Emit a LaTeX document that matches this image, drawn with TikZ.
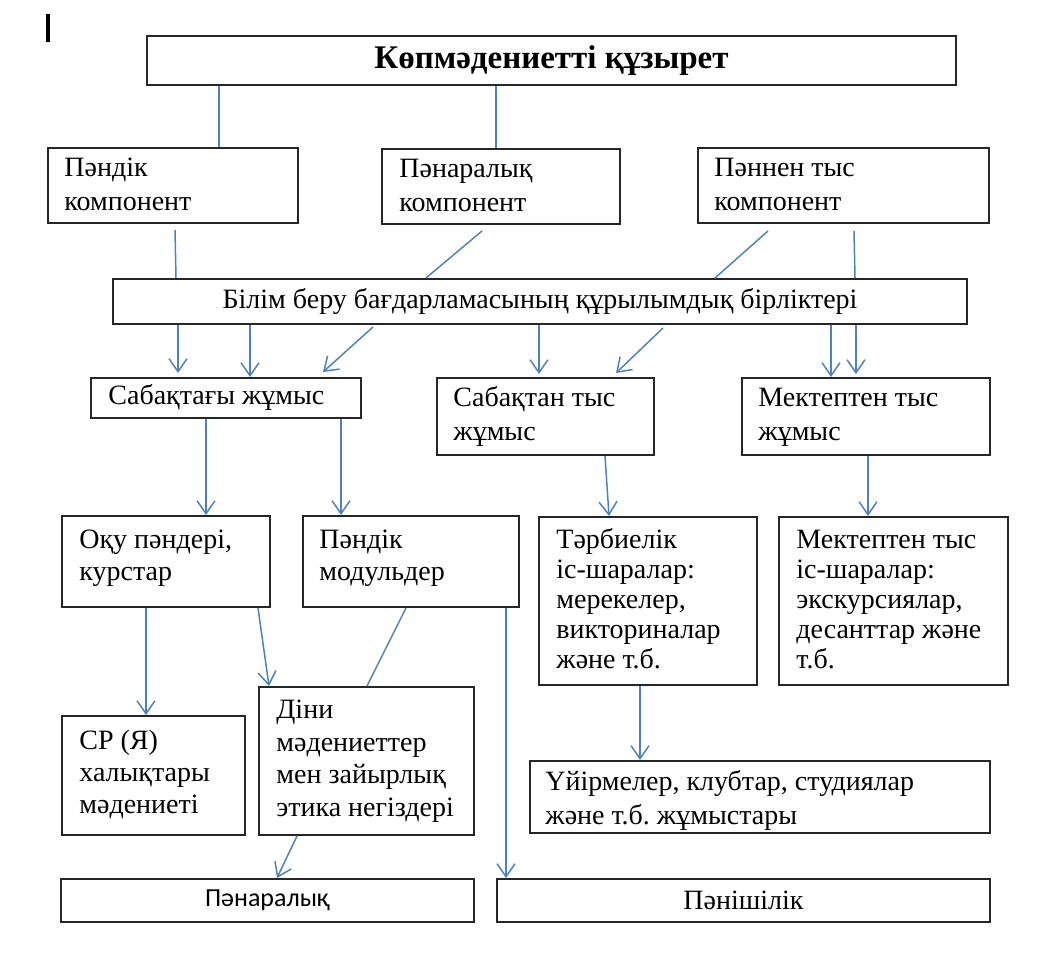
\documentclass[tikz,border=0pt]{standalone}
\usepackage{fontspec}
\setmainfont{Liberation Serif}
\newfontfamily\sansk{Carlito}
\usetikzlibrary{arrows.meta}
\definecolor{lnblue}{RGB}{79,129,189}
\definecolor{bxline}{RGB}{38,38,38}
\frenchspacing
\newcommand\txlines[2][16pt]{{\fontsize{14pt}{#1}\selectfont\frenchspacing\begin{tabular}{@{}l@{}}#2\end{tabular}}}
\begin{document}
\begin{tikzpicture}[x=0.5pt,y=-0.5pt,
  bx/.style={draw=bxline,line width=1pt,inner sep=0pt,anchor=north west,font=\fontsize{14pt}{16pt}\selectfont},
  tx/.style={anchor=west,inner sep=0pt},
  ln/.style={draw=lnblue,line width=0.75pt},
  ar/.style={ln,-{Straight Barb[length=6.5pt,width=9pt]}}]
\useasboundingbox (0,0) rectangle (1054,972);
% cursor bar
\draw[line width=1.6pt] (48,14) -- (48,42);
% boxes
\node[bx,minimum width=404.5pt,minimum height=24.5pt] (top) at (146,35) {\fontsize{16.5pt}{18pt}\selectfont\bfseries Көпмәдениетті құзырет};
\node[bx,minimum width=125pt,minimum height=37.5pt] (pand) at (47,147) {};
\node[bx,minimum width=119pt,minimum height=37.5pt] (panar) at (381,148) {};
\node[bx,minimum width=145.5pt,minimum height=37.5pt] (pannen) at (697,147) {};
\node[bx,minimum width=427pt,minimum height=22.5pt] (bilim) at (112,278) {Білім беру бағдарламасының құрылымдық бірліктері};
\node[bx,minimum width=135pt,minimum height=20pt] (sabaqt) at (90,377) {};
\node[bx,minimum width=108.5pt,minimum height=38.5pt] (sabtys) at (436,377) {};
\node[bx,minimum width=124pt,minimum height=38.5pt] (mektys) at (741,377) {};
\node[bx,minimum width=104pt,minimum height=45.5pt] (oqu) at (61,515) {};
\node[bx,minimum width=108pt,minimum height=45.5pt] (modul) at (302,515) {};
\node[bx,minimum width=109pt,minimum height=84pt] (tarb) at (538,516) {};
\node[bx,minimum width=114.5pt,minimum height=84pt] (mekis) at (778,516) {};
\node[bx,minimum width=91.5pt,minimum height=59.5pt] (cp) at (61,715) {};
\node[bx,minimum width=107.5pt,minimum height=74pt] (dini) at (258,686) {};
\node[bx,minimum width=230pt,minimum height=36pt] (uyirm) at (529,760) {};
\node[bx,minimum width=206.5pt,minimum height=21.5pt] (panarB) at (60,878) {\sansk\fontsize{13pt}{15pt}\selectfont Пәнаралық};
\node[bx,minimum width=246.5pt,minimum height=21.5pt] (panish) at (496,878) {Пәнішілік};
% texts inside boxes
\node[tx] (pandT) at ([xshift=8.5pt,yshift=-0.5pt]pand.west) {\txlines[17pt]{Пәндік\\компонент}};
\node[tx] (panarT) at ([xshift=9pt,yshift=-0.5pt]panar.west) {\txlines[17pt]{Пәнаралық\\компонент}};
\node[tx] (pannenT) at ([xshift=8.5pt,yshift=-0.5pt]pannen.west) {\txlines[17pt]{Пәннен тыс\\компонент}};
\node[tx] (sabaqtT) at ([xshift=9pt]sabaqt.west) {\txlines{Сабақтағы жұмыс}};
\node[tx] (sabtysT) at ([xshift=8.5pt]sabtys.west) {\txlines[17pt]{Сабақтан тыс\\жұмыс}};
\node[tx] (mektysT) at ([xshift=8.5pt]mektys.west) {\txlines[17pt]{Мектептен тыс\\жұмыс}};
\node[tx] (oquT) at ([xshift=9pt,yshift=1.5pt]oqu.west) {\txlines{Оқу пәндері,\\курстар}};
\node[tx] (modulT) at ([xshift=8.5pt,yshift=1.5pt]modul.west) {\txlines{Пәндік\\модульдер}};
\node[tx] (tarbT) at ([xshift=9pt,yshift=-0.5pt]tarb.west) {\txlines[15pt]{Тәрбиелік\\іс-шаралар:\\мерекелер,\\викториналар\\және т.б.}};
\node[tx] (mekisT) at ([xshift=9pt,yshift=-0.5pt]mekis.west) {\txlines[15pt]{Мектептен тыс\\іс-шаралар:\\экскурсиялар,\\десанттар және\\т.б.}};
\node[tx] (cpT) at ([xshift=9pt]cp.west) {\txlines{СР (Я)\\халықтары\\мәдениеті}};
\node[tx] (diniT) at ([xshift=9pt]dini.west) {\txlines[16.3pt]{Діни\\мәдениеттер\\мен зайырлық\\этика негіздері}};
\begin{scope}
\clip (uyirm.south west) rectangle (uyirm.north east);
\node[tx] (uyirmT) at ([xshift=8pt,yshift=-2pt]uyirm.west) {\txlines[17pt]{Үйірмелер, клубтар, студиялар\\және т.б. жұмыстары}};
\end{scope}
% connectors
\draw[ln] (top.south -| 219,0) -- (pand.north -| 219,0);
\draw[ln] (top.south -| 496,0) -- (panar.north -| 496,0);
\draw[ln] ([yshift=-3pt]pand.south -| 175,0) -- (bilim.north -| 176,0);
\draw[ln] ([yshift=-3pt]panar.south -| 482,0) -- (bilim.north -| 426,0);
\draw[ln] ([yshift=-3.5pt]pannen.south -| 768,0) -- (bilim.north -| 715,0);
\draw[ln] ([yshift=-3.5pt]pannen.south -| 854,0) -- (bilim.north -| 855,0);
\draw[ar] (bilim.south -| 178,0) -- ([yshift=2pt]sabaqt.north -| 178,0);
\draw[ar] (bilim.south -| 250,0) -- (sabaqt.north -| 250,0);
\draw[ar] ([yshift=-1pt]bilim.south -| 373,0) -- ([yshift=2.5pt]sabaqt.north -| 323,0);
\draw[ar] (bilim.south -| 539,0) -- ([yshift=1.5pt]sabtys.north -| 539,0);
\draw[ar] ([yshift=-1.5pt]bilim.south -| 663,0) -- ([yshift=2pt]sabtys.north -| 616,0);
\draw[ar] (bilim.south -| 831,0) -- (mektys.north -| 831,0);
\draw[ar] (bilim.south -| 856,0) -- ([yshift=1.5pt]mektys.north -| 856,0);
\draw[ar] (sabaqt.south -| 206,0) -- (oqu.north -| 206,0);
\draw[ar] (sabaqt.south -| 341,0) -- (modul.north -| 341,0);
\draw[ar] (sabtys.south -| 605,0) -- (tarb.north -| 609,0);
\draw[ar] (mektys.south -| 868,0) -- (mekis.north -| 868,0);
\draw[ar] (oqu.south -| 146,0) -- (cp.north -| 146,0);
\draw[ar] (oqu.south -| 258,0) -- (dini.north -| 269,0);
\draw[ln] (modul.south -| 406,0) -- (dini.north -| 367,0);
\draw[ar] (modul.south -| 506,0) -- (panish.north -| 506,0);
\draw[ar] (tarb.south -| 640,0) -- (uyirm.north -| 640,0);
\draw[ar] (dini.south -| 297,0) -- (panarB.north -| 277,0);
\end{tikzpicture}
\end{document}
